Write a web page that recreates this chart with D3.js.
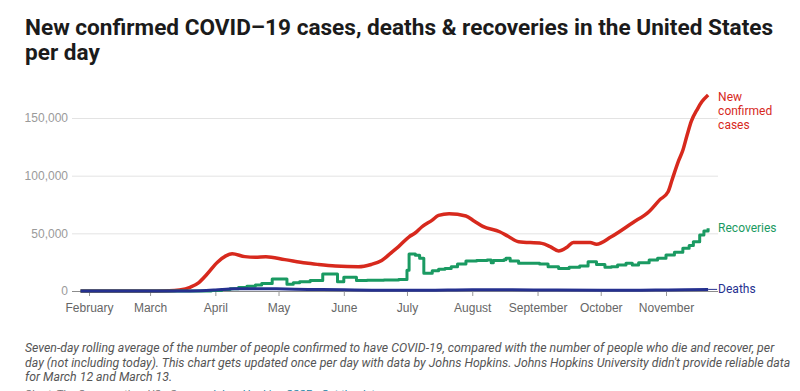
<html lang="en">
<head>
    <meta charset="UTF-8">
    <title>COVID-19 cases, deaths & recoveries</title>
    <script src="https://d3js.org/d3.v7.min.js"></script>
    <style>
        body { margin: 0; background: #fff; }
        svg { display: block; font-family: Roboto, "Noto Sans", sans-serif; }
        .yaxis text { fill: #9a9a9a; font-size: 12px; }
        .xaxis text { fill: #666; font-size: 12px; }
        .note { fill: #555; font-size: 12.3px; font-style: italic; }
    </style>
</head>
<body>
<svg width="800" height="391" class="chart"></svg>
<script>

// new confirmed cases, 7-day average
const caseDates = ["2020-01-28", "2020-02-15", "2020-03-01", "2020-03-10", "2020-03-15", "2020-03-20", "2020-03-24",
    "2020-03-28", "2020-04-02", "2020-04-06", "2020-04-09", "2020-04-15", "2020-04-20", "2020-04-25", "2020-05-04",
    "2020-05-14", "2020-05-20", "2020-05-28", "2020-06-08", "2020-06-14", "2020-06-19", "2020-06-24", "2020-06-27",
    "2020-07-02", "2020-07-05", "2020-07-08", "2020-07-13", "2020-07-16", "2020-07-21", "2020-07-29", "2020-08-02",
    "2020-08-06", "2020-08-14", "2020-08-18", "2020-08-23", "2020-09-03", "2020-09-07", "2020-09-11", "2020-09-15",
    "2020-09-18", "2020-09-26", "2020-09-29", "2020-10-06", "2020-10-16", "2020-10-24", "2020-10-29", "2020-11-02",
    "2020-11-04", "2020-11-07", "2020-11-09", "2020-11-11", "2020-11-13", "2020-11-16", "2020-11-18", "2020-11-21"];
const caseValues = [0, 0, 10, 150, 900, 3200, 7000,
    14500, 25000, 30500, 32300, 29800, 29300, 29700, 27200,
    24200, 23000, 21700, 21000, 23000, 26500, 34000, 38500,
    47000, 50500, 55500, 61500, 65500, 67000, 65000, 60500,
    56000, 51400, 47500, 42700, 41300, 38500, 34700, 38000,
    42000, 42000, 40500, 47000, 59000, 69000, 79000, 86000,
    97000, 113000, 122000, 135000, 147000, 158000, 164000, 170000];

// recoveries (reported in steps)
const recoveryDates = ["2020-01-28", "2020-03-25", "2020-03-30", "2020-04-04", "2020-04-08", "2020-04-12", "2020-04-16",
    "2020-04-20", "2020-04-23", "2020-04-28", "2020-05-05", "2020-05-08", "2020-05-11", "2020-05-16", "2020-05-22",
    "2020-05-29", "2020-06-01", "2020-06-07", "2020-06-12", "2020-06-20", "2020-06-27", "2020-07-01", "2020-07-02",
    "2020-07-05", "2020-07-07", "2020-07-09", "2020-07-13", "2020-07-16", "2020-07-19", "2020-07-22", "2020-07-25",
    "2020-07-29", "2020-08-03", "2020-08-08", "2020-08-10", "2020-08-11", "2020-08-16", "2020-08-17", "2020-08-19",
    "2020-08-23", "2020-09-02", "2020-09-06", "2020-09-11", "2020-09-16", "2020-09-21", "2020-09-25", "2020-09-29",
    "2020-10-03", "2020-10-06", "2020-10-09", "2020-10-13", "2020-10-16", "2020-10-19", "2020-10-24", "2020-10-28",
    "2020-11-01", "2020-11-05", "2020-11-09", "2020-11-12", "2020-11-14", "2020-11-17", "2020-11-19", "2020-11-21"];
const recoveryValues = [0, 100, 500, 1200, 2000, 3000, 4200,
    5200, 6600, 10400, 5800, 7200, 8000, 9000, 14700,
    8000, 12000, 9000, 9300, 9600, 10000, 18000, 32000,
    31000, 28300, 15300, 17500, 18800, 19500, 21000, 23500,
    26000, 26500, 26900, 24500, 26500, 27000, 28500, 26000,
    24000, 23400, 21000, 19600, 20500, 21700, 25400, 23000,
    20500, 21000, 22500, 24000, 22500, 24500, 26900, 28500,
    31200, 33500, 37000, 39500, 42700, 48500, 52000, 54300];

// deaths
const deathDates = ["2020-01-28", "2020-03-15", "2020-03-25", "2020-04-01", "2020-04-10", "2020-04-20", "2020-04-30",
    "2020-05-15", "2020-06-01", "2020-06-20", "2020-07-10", "2020-08-01", "2020-08-20", "2020-09-10", "2020-10-01",
    "2020-10-20", "2020-11-01", "2020-11-10", "2020-11-21"];
const deathValues = [0, 10, 300, 900, 1900, 2000, 1900,
    1400, 1000, 650, 700, 1100, 1050, 850, 750,
    750, 850, 1100, 1400];

const yTicks = [0, 50000, 100000, 150000];

const noteLines = [
    "Seven-day rolling average of the number of people confirmed to have COVID-19, compared with the number of people who die and recover, per",
    "day (not including today). This chart gets updated once per day with data by Johns Hopkins. Johns Hopkins University didn't provide reliable data",
    "for March 12 and March 13."
];

const parse = d3.timeParse("%Y-%m-%d");
const toSeries = (dates, values) => dates.map((d, i) => ({ date: parse(d), value: values[i] }));

const series = [
    { name: ["New", "confirmed", "cases"], color: "#d7291d", width: 3.5, curve: d3.curveMonotoneX, connector: false, data: toSeries(caseDates, caseValues) },
    { name: ["Recoveries"], color: "#1a9a62", width: 3, curve: d3.curveStepAfter, connector: false, data: toSeries(recoveryDates, recoveryValues) },
    { name: ["Deaths"], color: "#25308f", width: 3, curve: d3.curveMonotoneX, connector: true, data: toSeries(deathDates, deathValues) }
];

const svg = d3.select(".chart");
const plotLeft = 72, plotRight = 718, plotTop = 118, plotBottom = 291;

// title
svg.append("text")
    .attr("x", 25).attr("y", 35)
    .style("font-size", "22.6px").style("font-weight", 700).style("fill", "#1b1b1b")
    .selectAll("tspan")
    .data(["New confirmed COVID\u201319 cases, deaths & recoveries in the United States", "per day"])
    .enter().append("tspan")
    .attr("x", 25)
    .attr("dy", (d, i) => i ? 25 : 0)
    .text(d => d);

var x = d3.scaleTime()
    .domain([new Date(2020, 1, 1), new Date(2020, 10, 1)])
    .range([89, 666]);
var y = d3.scaleLinear()
    .domain([0, 150000])
    .range([plotBottom, plotTop]);

const yAxis = svg.append("g")
    .attr("class", "yaxis")
    .attr("transform", `translate(${plotLeft},0)`)
    .call(d3.axisLeft(y).tickValues(yTicks).tickSize(-(plotRight - plotLeft)).tickPadding(4).tickFormat(d3.format(",")));
yAxis.select(".domain").remove();
yAxis.selectAll("line").attr("stroke", "#e3e3e3");
yAxis.selectAll(".tick").filter(d => d === 0).select("line").attr("stroke", "#8c8c8c");

const xAxis = svg.append("g")
    .attr("class", "xaxis")
    .attr("transform", `translate(0,${plotBottom})`)
    .call(d3.axisBottom(x).ticks(d3.timeMonth.every(1)).tickSize(5).tickPadding(7).tickFormat(d3.timeFormat("%B")));
xAxis.select(".domain").remove();
xAxis.selectAll("line").attr("stroke", "#999");

// lines
series.forEach(s => {
    const line = d3.line()
        .x(d => x(d.date))
        .y(d => y(d.value))
        .curve(s.curve);
    svg.append("path")
        .datum(s.data)
        .attr("fill", "none")
        .attr("stroke", s.color)
        .attr("stroke-width", s.width)
        .attr("stroke-linejoin", "round")
        .attr("d", line);
});

// line labels
series.forEach(s => {
    const last = s.data[s.data.length - 1];
    const lx = x(last.date) + 10;
    const ly = s.name.length > 1 ? y(last.value) + 6 : y(last.value) + 4;
    if (s.connector) {
        svg.append("line")
            .attr("x1", x(last.date)).attr("x2", lx - 1)
            .attr("y1", y(last.value)).attr("y2", y(last.value))
            .attr("stroke", s.color).attr("stroke-width", 1);
    }
    svg.append("text")
        .attr("x", lx).attr("y", ly)
        .style("font-size", "12px").style("fill", s.color)
        .selectAll("tspan")
        .data(s.name)
        .enter().append("tspan")
        .attr("x", lx)
        .attr("dy", (d, i) => i ? 14.2 : 0)
        .text(d => d);
});

// notes
svg.append("text")
    .attr("class", "note")
    .attr("x", 25).attr("y", 352)
    .selectAll("tspan")
    .data(noteLines)
    .enter().append("tspan")
    .attr("x", 25)
    .attr("dy", (d, i) => i ? 14.5 : 0)
    .text(d => d);

const source = svg.append("text")
    .attr("x", 25).attr("y", 398)
    .style("font-size", "11px").style("fill", "#777");
source.append("tspan").text("Chart: The Conversation, US \u2022 Source: ");
source.append("tspan").style("fill", "#1d81a2").text("Johns Hopkins CSSE");
source.append("tspan").text(" \u2022 ");
source.append("tspan").style("fill", "#1d81a2").text("Get the data");

</script>
</body>
</html>
